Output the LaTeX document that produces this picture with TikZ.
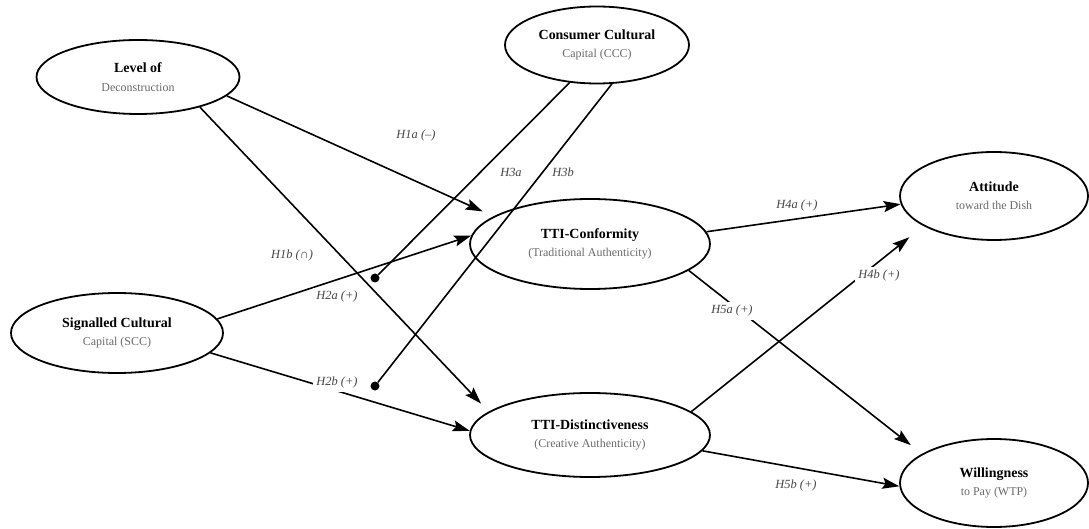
\documentclass[tikz,border=0pt]{standalone}
\usepackage{fontspec}
\setmainfont{Liberation Serif}
\usetikzlibrary{arrows.meta,shapes.geometric}
\definecolor{subgray}{HTML}{6A6A6A}
\definecolor{hypgray}{HTML}{454545}
\newcommand{\cvar}[2]{{\fontsize{14}{18.5}\selectfont\bfseries #1}\\{\color{subgray}#2}}

\begin{document}
\begin{tikzpicture}[
    x=1bp, y=-1bp,
    construct/.style={ellipse, draw, line width=1.8bp, inner sep=0pt, align=center, font=\fontsize{12}{18.5}\selectfont},
    arrow/.style={-{Stealth[length=17bp, width=11bp, inset=3bp]}, line width=1.6bp},
    link/.style={line width=1.6bp},
    moddot/.style={circle, fill, inner sep=0pt, minimum size=9bp},
    hyplabel/.style={font=\fontsize{12.5}{14}\selectfont\itshape, text=hypgray, inner sep=3bp},
    cutline/.style={fill=white}
]
    \useasboundingbox (0,0) rectangle (1089,529);

    \node[construct, minimum width=203bp, minimum height=74bp] (lvl) at (138,77) {\cvar{Level of}{Deconstruction}};
    \node[construct, minimum width=184bp, minimum height=77bp] (ccc) at (597,45) {\cvar{Consumer Cultural}{Capital (CCC)}};
    \node[construct, minimum width=212bp, minimum height=80bp] (scc) at (117,333) {\cvar{Signalled Cultural}{Capital (SCC)}};
    \node[construct, minimum width=240bp, minimum height=90bp] (conf) at (590,244) {\cvar{TTI-Conformity}{(Traditional Authenticity)}};
    \node[construct, minimum width=240bp, minimum height=84bp] (dist) at (590,435) {\cvar{TTI-Distinctiveness}{(Creative Authenticity)}};
    \node[construct, minimum width=188bp, minimum height=88bp] (att) at (994,196) {\cvar{Attitude}{toward the Dish}};
    \node[construct, minimum width=188bp, minimum height=88bp] (will) at (994,483) {\cvar{Willingness}{to Pay (WTP)}};

    \node[moddot] (d1) at (375,278) {};
    \node[moddot] (d2) at (375,386) {};

    \draw[arrow, shorten >=12bp] (lvl.-12) -- (conf.164);
    \draw[arrow, shorten >=11bp] (lvl.-26) -- (dist.167);
    \draw[arrow] (scc.8) -- (conf.176);
    \draw[arrow] (scc.-12) -- (dist.178);
    \draw[link] (ccc.-126) -- (d1);
    \draw[link] (ccc.-69) -- (d2);
    \draw[arrow] (conf.6) -- (att.185);
    \draw[arrow, shorten >=18bp] (dist.13) -- (att.203);
    \draw[arrow, shorten >=14bp] (conf.-15) -- (will.158);
    \draw[arrow] (dist.-8) -- (will.182);

    \node[hyplabel] (h1a) at (416,136) {H1a (–)};
    \node[hyplabel] (h1b) at (292,256) {H1b (∩)};
    \node[hyplabel, cutline] (h2a) at (337,297) {H2a (+)};
    \node[hyplabel, cutline] (h2b) at (337,383) {H2b (+)};
    \node[hyplabel] (h3a) at (511,172) {H3a};
    \node[hyplabel, cutline] (h3b) at (563,172) {H3b};
    \node[hyplabel] (h4a) at (797,206) {H4a (+)};
    \node[hyplabel, cutline] (h4b) at (879,276) {H4b (+)};
    \node[hyplabel, cutline] (h5a) at (732,311) {H5a (+)};
    \node[hyplabel] (h5b) at (796,486) {H5b (+)};
\end{tikzpicture}
\end{document}
